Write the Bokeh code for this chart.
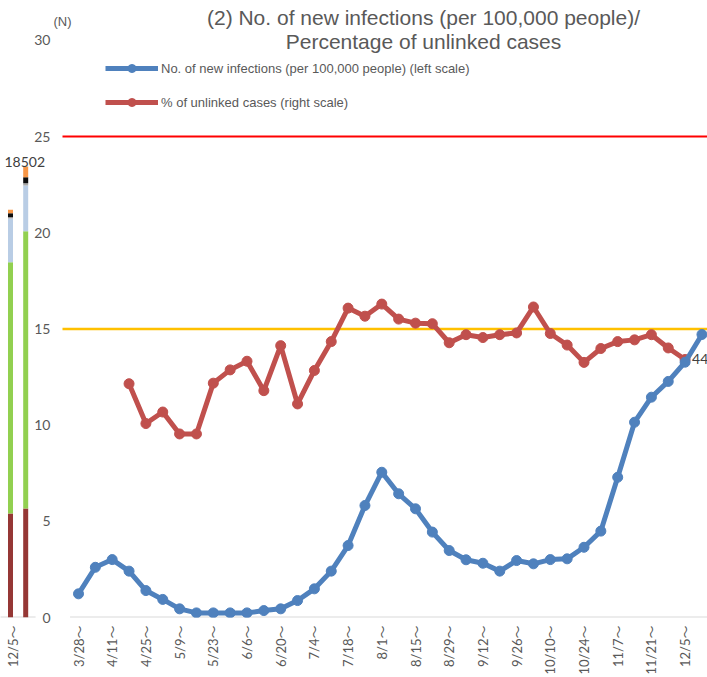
import math
from bokeh.plotting import figure
from bokeh.models import (Range1d, FixedTicker, Label, Legend, LegendItem,
                          ColumnDataSource)
from bokeh.embed import file_html
from bokeh.resources import INLINE

# ---------------- data ----------------
weeks = ["3/28～", "4/4～", "4/11～", "4/18～", "4/25～", "5/2～", "5/9～", "5/16～",
         "5/23～", "5/30～", "6/6～", "6/13～", "6/20～", "6/27～", "7/4～", "7/11～",
         "7/18～", "7/25～", "8/1～", "8/8～", "8/15～", "8/22～", "8/29～", "9/5～",
         "9/12～", "9/19～", "9/26～", "10/3～", "10/10～", "10/17～", "10/24～", "10/31～",
         "11/7～", "11/14～", "11/21～", "11/28～", "12/5～", "12/12～"]

# No. of new infections per 100,000 people (left scale)
infections = [1.23, 2.61, 3.01, 2.41, 1.40, 0.94, 0.45, 0.24, 0.24, 0.24, 0.24, 0.36,
              0.45, 0.88, 1.49, 2.41, 3.74, 5.82, 7.55, 6.43, 5.65, 4.44, 3.48, 3.00,
              2.82, 2.41, 2.96, 2.79, 3.01, 3.05, 3.65, 4.49, 7.29, 10.15, 11.45, 12.27,
              13.27, 14.71]

# % of unlinked cases (right scale), starting at week 4/18～
unlinked_weeks = weeks[3:37]
unlinked = [40.5, 33.6, 35.6, 31.8, 31.8, 40.6, 42.9, 44.4, 39.3, 47.1, 37.0, 42.8,
            47.8, 53.6, 52.2, 54.3, 51.7, 51.0, 50.9, 47.6, 49.0, 48.5, 49.0, 49.3,
            53.8, 49.2, 47.2, 44.2, 46.6, 47.8, 48.1, 49.0, 46.7, 44.7]

left_threshold = 25      # per 100,000 people
right_threshold = 50     # % unlinked

left_ticks = [0, 5, 10, 15, 20, 25, 30]

# remnant of neighbouring chart (stacked bars at the left edge)
strip_labels = ["12/5～", ""]
strip_total_label = "18502"
strip_seg_names = ["s1", "s2", "s3", "s4", "s5", "s6"]
strip_s1 = [4267, 4472]
strip_s2 = [10310, 11376]
strip_s3 = [1793, 1875]
strip_s4 = [53, 94]
strip_s5 = [164, 246]
strip_s6 = [139, 439]
strip_colors = ["#953735", "#92D050", "#B9CDE5", "#A6A6A6", "#0D0D0D", "#F79646"]

# ---------------- layout constants ----------------
W, H = 707, 677
FRAME_H = 617               # frame from page y=0 to 617
PX_WEEK = 16.85             # pixels per week
FIRST_PX = 78.0             # frame px of first week
x_start = -FIRST_PX / PX_WEEK
x_end = x_start + W / PX_WEEK
PX_UNIT = 19.24             # pixels per left-axis unit
y_end = FRAME_H / PX_UNIT
pct_end = y_end * 100.0 / 30.0

STRIP_PX = 15.2
STRIP_FIRST = 10.0
strip_start = -STRIP_FIRST / STRIP_PX
strip_end = strip_start + W / STRIP_PX
strip_totals = [a + b + c + d + e + f for a, b, c, d, e, f in
                zip(strip_s1, strip_s2, strip_s3, strip_s4, strip_s5, strip_s6)]
strip_top = max(strip_totals) * FRAME_H / 451.0

GRAY = "#595959"
TICK_FONT = "Lato, 'Noto Sans CJK JP'"
TEXT_FONT = "'Liberation Sans', Arial"

p = figure(width=W, height=H, output_backend="svg", toolbar_location=None,
           x_range=Range1d(x_start, x_end), y_range=Range1d(0, y_end),
           min_border_left=0, min_border_right=0, min_border_top=0,
           min_border_bottom=H - FRAME_H, outline_line_color=None)
p.extra_y_ranges = {"pct": Range1d(0, pct_end), "strip_y": Range1d(0, strip_top)}
p.extra_x_ranges = {"strip_x": Range1d(strip_start, strip_end)}
p.grid.visible = False

# ---- axes ----
yax = p.yaxis[0]
yax.ticker = FixedTicker(ticks=left_ticks)
yax.axis_line_color = None
yax.major_tick_line_color = None
yax.minor_tick_line_color = None
yax.major_label_standoff = -56
yax.major_label_text_font = TICK_FONT
yax.major_label_text_font_size = "14px"
yax.major_label_text_color = GRAY

strip_tick = round(x_start + 12.5 / PX_WEEK, 3)
xticks = [strip_tick] + list(range(0, len(weeks), 2))
overrides = {strip_tick: strip_labels[0]}
for i in range(0, len(weeks), 2):
    overrides[i] = weeks[i]
xax = p.xaxis[0]
xax.ticker = FixedTicker(ticks=xticks)
xax.major_label_overrides = overrides
xax.axis_line_color = None
xax.major_tick_line_color = None
xax.minor_tick_line_color = None
xax.major_label_orientation = math.pi / 2
xax.major_label_standoff = 2
xax.major_label_text_font = TICK_FONT
xax.major_label_text_font_size = "13px"
xax.major_label_text_color = GRAY

# ---- baselines ----
n = len(weeks)
p.segment(x0=[-0.5], x1=[n + 1], y0=[0], y1=[0], line_color="#D9D9D9", line_width=2)
p.segment(x0=[-1.0], x1=[1.65], y0=[0], y1=[0], line_color="#D9D9D9", line_width=2,
          x_range_name="strip_x", y_range_name="strip_y")

# ---- threshold lines ----
thr_x0 = -0.5 - 0.45
p.segment(x0=[thr_x0], x1=[n + 1], y0=[left_threshold], y1=[left_threshold],
          line_color="#FF0000", line_width=2)
p.segment(x0=[thr_x0], x1=[n + 1], y0=[right_threshold], y1=[right_threshold],
          line_color="#FFC000", line_width=2.5, y_range_name="pct")

# ---- strip stacked bars ----
strip_src = ColumnDataSource(dict(x=list(range(len(strip_labels))), s1=strip_s1, s2=strip_s2,
                                  s3=strip_s3, s4=strip_s4, s5=strip_s5, s6=strip_s6))
p.vbar_stack(strip_seg_names, x="x", width=5 / STRIP_PX, color=strip_colors, line_width=0,
             source=strip_src, x_range_name="strip_x", y_range_name="strip_y")
p.add_layout(Label(x=1, y=strip_totals[1], text=strip_total_label, x_range_name="strip_x",
                   y_range_name="strip_y", text_align="center", text_baseline="bottom",
                   y_offset=0, x_offset=-1, text_font=TICK_FONT, text_font_size="14px",
                   text_color="#404040"))

# ---- series ----
blue = "#4F81BD"
red = "#C0504D"
inf_src = ColumnDataSource(dict(x=list(range(n)), y=infections))
ul_x = [weeks.index(w) for w in unlinked_weeks]
ul_src = ColumnDataSource(dict(x=ul_x, y=unlinked))

rl = p.line("x", "y", source=ul_src, line_color=red, line_width=5, y_range_name="pct",
            line_join="round")
rs = p.scatter("x", "y", source=ul_src, size=10, fill_color=red, line_color=red,
               y_range_name="pct")
bl = p.line("x", "y", source=inf_src, line_color=blue, line_width=5, line_join="round")
bs = p.scatter("x", "y", source=inf_src, size=10, fill_color=blue, line_color=blue)

p.add_layout(Label(x=ul_x[-1], y=unlinked[-1], y_range_name="pct",
                   text=str(int(unlinked[-1])), x_offset=7, text_baseline="middle",
                   text_font=TICK_FONT, text_font_size="14px", text_color="#404040"))

# ---- legend ----
legend = Legend(items=[
    LegendItem(label="No. of new infections (per 100,000 people) (left scale)", renderers=[bl, bs]),
    LegendItem(label="% of unlinked cases (right scale)", renderers=[rl, rs]),
], location=(105, 505), glyph_width=53, glyph_height=20, label_height=20, label_standoff=3,
    spacing=14, padding=0, margin=0, border_line_color=None, background_fill_alpha=0,
    label_text_font=TEXT_FONT, label_text_font_size="13px", label_text_color=GRAY)
p.add_layout(legend)

# ---- title & unit ----
p.add_layout(Label(x=423, y=600, x_units="screen", y_units="screen",
                   text="(2) No. of new infections (per 100,000 people)/",
                   text_align="center", text_baseline="alphabetic", text_font=TEXT_FONT,
                   text_font_size="21px", text_color=GRAY))
p.add_layout(Label(x=423, y=576, x_units="screen", y_units="screen",
                   text="Percentage of unlinked cases",
                   text_align="center", text_baseline="alphabetic", text_font=TEXT_FONT,
                   text_font_size="21px", text_color=GRAY))
p.add_layout(Label(x=53, y=596, x_units="screen", y_units="screen", text="(N)",
                   text_baseline="middle", text_font=TEXT_FONT, text_font_size="13px",
                   text_color=GRAY))

open("out.html", "w").write(file_html(p, INLINE))
